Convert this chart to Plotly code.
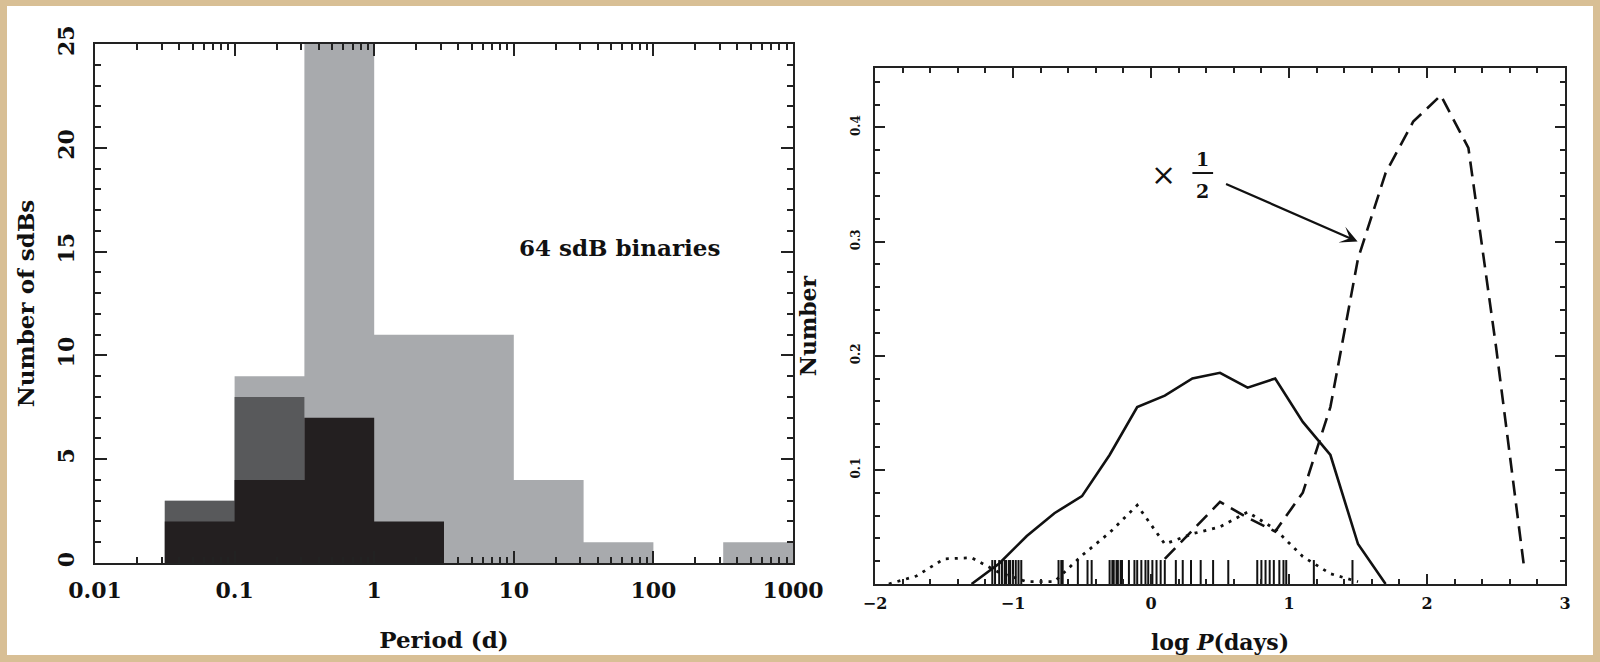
import numpy as np
import plotly.graph_objects as go

# ---------------- data ----------------
# left panel: histogram of sdB binary periods (half-decade bins)
bin_edges_log = [-1.5, -1.0, -0.5, 0.0, 0.5, 1.0, 1.5, 2.0, 2.5, 3.0]
all_counts = [3, 9, 25, 11, 11, 4, 1, 0, 1]
mid_counts = [3, 8]
black_counts = [2, 4, 7, 2]

# right panel: model distributions vs log P
solid_x = [-1.3, -1.1, -0.9, -0.7, -0.5, -0.3, -0.1, 0.1, 0.3, 0.5, 0.7, 0.9, 1.1, 1.3, 1.5, 1.7]
solid_y = [0.0, 0.018, 0.042, 0.062, 0.077, 0.113, 0.155, 0.165, 0.180, 0.185, 0.172, 0.180, 0.142, 0.113, 0.035, 0.0]

dashed_x = [0.1, 0.3, 0.5, 0.7, 0.9, 1.1, 1.3, 1.5, 1.7, 1.9, 2.1, 2.3, 2.5, 2.7]
dashed_y = [0.022, 0.047, 0.072, 0.058, 0.046, 0.080, 0.155, 0.285, 0.360, 0.405, 0.428, 0.382, 0.208, 0.018]

dotted_x = [-1.9, -1.7, -1.5, -1.3, -1.1, -0.9, -0.7, -0.5, -0.3, -0.1, 0.1, 0.3, 0.5, 0.7, 0.9, 1.1, 1.3, 1.5]
dotted_y = [0.0, 0.007, 0.022, 0.023, 0.010, 0.002, 0.002, 0.025, 0.045, 0.069, 0.035, 0.044, 0.050, 0.063, 0.048, 0.024, 0.009, 0.002]

# observed systems (rug marks), log P
rug_logp = [-1.15, -1.13, -1.10, -1.08, -1.06, -1.05, -1.03, -1.02, -1.00, -0.98, -0.96, -0.94,
            -0.67, -0.65, -0.64, -0.53, -0.46, -0.43,
            -0.30, -0.28, -0.27, -0.25, -0.24, -0.22, -0.21,
            -0.16, -0.12, -0.10, -0.07, -0.04, -0.02, 0.01, 0.04, 0.07, 0.10,
            0.18, 0.23, 0.29, 0.36, 0.45, 0.56,
            0.77, 0.80, 0.83, 0.86, 0.89, 0.93, 0.96, 0.98,
            1.18, 1.46]
rug_height = 0.021

left_xticks = [0.01, 0.1, 1, 10, 100, 1000]
right_xticks = [-2, -1, 0, 1, 2, 3]
right_yticks = [0.1, 0.2, 0.3, 0.4]

# ---------------- figure ----------------
W, H = 1600, 662
FONT = "DejaVu Serif"
LIGHT, MID, DARK = "#a8aaad", "#58595b", "#231f20"

edges = 10 ** np.array(bin_edges_log)

def step(counts):
    n = len(counts)
    xs = list(edges[: n + 1])
    ys = list(counts) + [0]
    return xs, ys

fig = go.Figure()
for counts, col in [(all_counts, LIGHT), (mid_counts, MID), (black_counts, DARK)]:
    xs, ys = step(counts)
    fig.add_trace(go.Scatter(x=xs, y=ys, mode="lines", line=dict(shape="hv", width=0, color=col),
                             fill="tozeroy", fillcolor=col, hoverinfo="skip", showlegend=False,
                             xaxis="x", yaxis="y"))

# rug
rx, ry = [], []
for v in rug_logp:
    rx += [v, v, None]
    ry += [0, rug_height, None]
fig.add_trace(go.Scatter(x=rx, y=ry, mode="lines", line=dict(color="#111", width=2),
                         showlegend=False, xaxis="x2", yaxis="y2"))
fig.add_trace(go.Scatter(x=solid_x, y=solid_y, mode="lines", line=dict(color="#111", width=2.6),
                         showlegend=False, xaxis="x2", yaxis="y2"))
fig.add_trace(go.Scatter(x=dashed_x, y=dashed_y, mode="lines",
                         line=dict(color="#111", width=2.6, dash="15px,8px"),
                         showlegend=False, xaxis="x2", yaxis="y2"))
fig.add_trace(go.Scatter(x=dotted_x, y=dotted_y, mode="lines",
                         line=dict(color="#111", width=2.8, dash="3px,6px"),
                         showlegend=False, xaxis="x2", yaxis="y2"))

def px_x(p):
    return p / W

def px_y(p):
    return 1 - p / H

axis_common = dict(showline=True, linecolor="#222", linewidth=2.4, mirror="ticks",
                   ticks="inside", tickcolor="#222", tickwidth=2, showgrid=False,
                   zeroline=False, automargin=False)

fig.update_layout(
    width=W, height=H,
    margin=dict(l=0, r=0, t=0, b=0),
    paper_bgcolor="#d8bf95",
    plot_bgcolor="rgba(0,0,0,0)",
    font=dict(family=FONT, color="#111"),
    showlegend=False,
    xaxis=dict(**axis_common, type="log", range=[-2, 3], domain=[px_x(95), px_x(793)],
               dtick=1, tickformat="~g", ticklen=12,
               minor=dict(ticks="inside", ticklen=6, dtick="D1", tickcolor="#222", tickwidth=1.6, showgrid=False),
               tickfont=dict(size=22, family=FONT, weight="bold"), ticklabelstandoff=6,
               title=dict(text="Period (d)", font=dict(size=23, family=FONT, weight="bold"), standoff=30),
               anchor="y"),
    yaxis=dict(**axis_common, range=[0, 25], domain=[px_y(563), px_y(44)], dtick=5, ticklen=12,
               minor=dict(ticks="inside", ticklen=6, dtick=1, tickcolor="#222", tickwidth=1.6, showgrid=False),
               tickangle=-90, tickfont=dict(size=22, family=FONT, weight="bold"), ticklabelstandoff=10,
               title=dict(text="Number of sdBs", font=dict(size=23, family=FONT, weight="bold"), standoff=12),
               anchor="x"),
    xaxis2=dict(**axis_common, range=[-2, 3], domain=[px_x(875), px_x(1565)],
                tickmode="array", tickvals=right_xticks, ticklen=10,
                minor=dict(ticks="inside", ticklen=5, dtick=0.2, tick0=0, tickcolor="#222", tickwidth=1.6, showgrid=False),
                tickfont=dict(size=16, family=FONT, weight="bold"), ticklabelstandoff=4,
                title=dict(text="log <i>P</i>(days)", font=dict(size=22, family=FONT, weight="bold"), standoff=22),
                anchor="y2"),
    yaxis2=dict(**axis_common, range=[0, 0.452], domain=[px_y(584), px_y(68)],
                tickmode="array", tickvals=right_yticks, ticklen=10,
                minor=dict(ticks="inside", ticklen=5, dtick=0.02, tick0=0, tickcolor="#222", tickwidth=1.6, showgrid=False),
                tickangle=-90, tickfont=dict(size=12, family=FONT, weight="bold"), ticklabelstandoff=8,
                title=dict(text="Number", font=dict(size=22, family=FONT, weight="bold"), standoff=26),
                anchor="x2"),
)

# white page behind the panels (tan border around)
fig.add_shape(type="rect", xref="paper", yref="paper", x0=px_x(7), x1=px_x(1593), y0=px_y(655), y1=px_y(6),
              fillcolor="white", line=dict(width=0), layer="below")

# fraction bar for the x 1/2 label
fig.add_shape(type="line", xref="x2", yref="y2", x0=0.30, x1=0.45, y0=0.360, y1=0.360,
              line=dict(color="#111", width=2))

fig.add_annotation(x=1.754, y=15.2, xref="x", yref="y", text="64 sdB binaries", showarrow=False,
                   font=dict(size=23, family=FONT, weight="bold", color="#111"))
fig.add_annotation(x=0.094, y=0.359, xref="x2", yref="y2", text="×", showarrow=False,
                   font=dict(size=30, family=FONT, color="#111"))
fig.add_annotation(x=0.372, y=0.372, xref="x2", yref="y2", text="1", showarrow=False,
                   font=dict(size=19, family=FONT, weight="bold", color="#111"))
fig.add_annotation(x=0.372, y=0.344, xref="x2", yref="y2", text="2", showarrow=False,
                   font=dict(size=19, family=FONT, weight="bold", color="#111"))
fig.add_annotation(x=1.497, y=0.300, ax=0.533, ay=0.351, xref="x2", yref="y2", axref="x2", ayref="y2",
                   text="", showarrow=True, arrowhead=3, arrowsize=1.3, arrowwidth=2.2, arrowcolor="#111")

fig.write_html("out.html")
